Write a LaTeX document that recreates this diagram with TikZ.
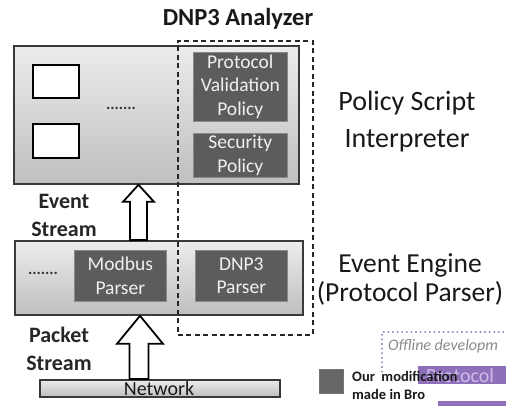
\documentclass[tikz,border=0pt]{standalone}
\usepackage{fontspec}
\setmainfont{Carlito}
\usetikzlibrary{calc}
\definecolor{layerline}{HTML}{3A3A3A}
\definecolor{layertop}{HTML}{ECECEC}
\definecolor{layerbot}{HTML}{BFBFBF}
\definecolor{darkfill}{HTML}{5C5C5C}
\definecolor{darkline}{HTML}{8A8A8A}
\definecolor{darktext}{HTML}{F0F0F0}
\definecolor{purplebox}{HTML}{8E70BA}
\definecolor{purpletext}{HTML}{CDBDEA}
\definecolor{dotframe}{HTML}{8E8EB8}
\definecolor{offtext}{HTML}{8A8A8A}
\tikzset{
  layer/.style={draw=layerline, line width=1.8pt, top color=layertop, bottom color=layerbot,
    inner sep=0pt, anchor=north west, rectangle},
  whitebox/.style={draw=black, line width=1.8pt, fill=white, inner sep=0pt, anchor=north west, rectangle},
  darkbox/.style={draw=darkline, line width=0.6pt, fill=darkfill, text=darktext, inner sep=0pt,
    anchor=north west, rectangle, align=center, font=\fontsize{19.5}{23.5}\selectfont},
  blk/.style={draw=black, line width=1.8pt, fill=white, line join=miter},
  biglabel/.style={align=center, font=\fontsize{27.5}{29}\selectfont, text=black!90},
  streamlabel/.style={align=center, font=\bfseries\fontsize{22}{28}\selectfont, text=black!85},
  dots/.style={font=\bfseries\fontsize{16}{16}\selectfont, text=black!80},
  dashbox/.style={draw=black!85, line width=1.6pt, dash pattern=on 5pt off 3.5pt, inner sep=0pt,
    anchor=north west, rectangle}
}
\begin{document}
\begin{tikzpicture}[x=1pt,y=-1pt]
\useasboundingbox (0,0) rectangle (506,406);
\clip (0,0) rectangle (506,406);

% layers
\node[layer, minimum width=285pt, minimum height=138pt] (top) at (13,45) {};
\node[layer, minimum width=288pt, minimum height=74pt] (mid) at (14,240) {};
\node[layer, minimum width=240pt, minimum height=17pt] (net) at (39,379) {};
\node[font=\fontsize{20}{20}\selectfont, text=black!90] (nettext) at (159,388.5) {Network};

% contents of policy layer
\node[whitebox, minimum width=46pt, minimum height=33pt] (w1) at (32,64) {};
\node[whitebox, minimum width=46pt, minimum height=34pt] (w2) at (32,123) {};
\node[dots] (dots1) at (121,108) {.......};
\node[darkbox, minimum width=94pt, minimum height=69pt] (pvp) at (193,52) {Protocol\\Validation\\Policy};
\node[darkbox, minimum width=94pt, minimum height=44pt] (sp) at (193,133) {Security\\Policy};

% contents of event engine layer
\node[dots] (dots2) at (43,273) {.......};
\node[darkbox, minimum width=92pt, minimum height=51pt] (modbus) at (74,250) {Modbus\\Parser};
\node[darkbox, minimum width=92pt, minimum height=51pt] (dnpparser) at (195,250) {DNP3\\Parser};

% DNP3 analyzer frame
\node[dashbox, minimum width=135pt, minimum height=294pt] (dnp) at (177,40) {};
\node[font=\bfseries\fontsize{24.5}{24.5}\selectfont, text=black!90] (dnptitle) at (238,19) {DNP3 Analyzer};

% block arrows
\draw[blk] let \p1=(top.south), \p2=(mid.north) in
  (130pt,\y2) -- (130pt,\y1-17pt) -- (123pt,\y1-17pt) -- (138.5pt,\y1) -- (154pt,\y1-17pt)
  -- (147pt,\y1-17pt) -- (147pt,\y2) -- cycle;
\draw[blk] let \p1=(mid.south), \p2=(net.north) in
  (129.5pt,\y2) -- (129.5pt,\y1-28pt) -- (117pt,\y1-28pt) -- (140pt,\y1) -- (163pt,\y1-28pt)
  -- (148.5pt,\y1-28pt) -- (148.5pt,\y2) -- cycle;

% labels
\node[streamlabel] (evstream) at (64,215) {Event\\Stream};
\node[streamlabel] (pkstream) at (59,349) {Packet\\Stream};
\node[biglabel, font=\fontsize{28}{37}\selectfont] (psi) at (407,121.5) {Policy Script\\Interpreter};
\node[biglabel] (ee) at (410,279) {Event Engine\\(Protocol Parser)};

% partial legend / overlapping fragment
\draw[dotframe, line width=1.1pt, dash pattern=on 0.8pt off 3.8pt, line cap=round]
  (382,372) -- (382,332) -- (510,332);
\node[anchor=west, font=\itshape\fontsize{16}{16}\selectfont, text=offtext, inner sep=0pt] (offline) at (388,346) {Offline developm};
\fill[white] (415,363) rectangle (510,387);
\node[fill=purplebox, minimum width=92pt, minimum height=18pt, inner sep=0pt, anchor=north west] (pbox) at (418,366) {};
\fill[purplebox] (438,401) rectangle (510,410);
\node[font=\fontsize{20}{20}\selectfont, text=purpletext] (ptext) at (460,376) {Protocol};
\node[draw=black!55, line width=0.5pt, fill=black!60, minimum width=24pt, minimum height=24pt, inner sep=0pt, anchor=north west] (legsq) at (319,369) {};
\node[anchor=north west, align=left, inner sep=0pt, font=\bfseries\fontsize{14.5}{18}\selectfont, text=black!90] (legtext) at (352,371) {Our\ \ modification\\made in Bro};
\end{tikzpicture}
\end{document}
